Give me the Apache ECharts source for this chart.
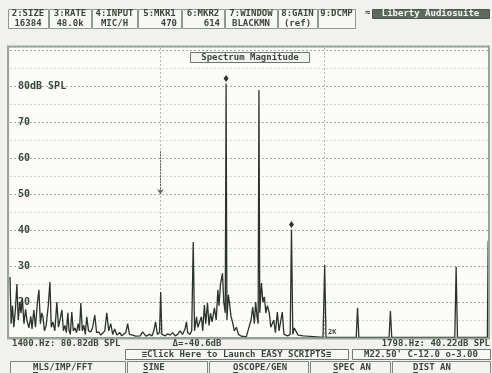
<!DOCTYPE html>
<html>
<head>
<meta charset="utf-8">
<script src="https://cdn.jsdelivr.net/npm/echarts@6/dist/echarts.min.js"></script>
<style>
  html, body { margin: 0; padding: 0; background: #f1f2ee; }
  #chart { width: 492px; height: 373px; }
</style>
</head>
<body>
<div id="chart"></div>
<script>
// Spectrum trace: frequency (Hz) and level (dB SPL), one entry per point
const freqHz = [
  85, 92, 100, 108, 118, 127, 135, 145, 152, 160, 170, 180, 188, 200, 212, 219, 230, 240, 252, 261,
  270, 278, 285, 295, 305, 318, 328, 336, 346, 358, 370, 380, 389, 401, 410, 419, 428, 437, 444, 452,
  461, 470, 480, 490, 500, 508, 516, 525, 534, 543, 552, 563, 577, 588, 601, 612, 625, 637, 650, 662,
  674, 686, 698, 710, 722, 735, 753, 765, 777, 790, 801, 812, 832, 850, 862, 878, 892, 912, 935, 950,
  960, 971, 982, 995, 1002, 1009, 1020, 1030, 1045, 1060, 1075, 1090, 1105, 1120, 1135, 1150, 1159, 1166, 1180, 1191,
  1200, 1208, 1220, 1228, 1238, 1250, 1258, 1268, 1276, 1287, 1296, 1305, 1315, 1329, 1340, 1350, 1357, 1366, 1378, 1386,
  1395, 1400, 1405, 1414, 1420, 1430, 1439, 1450, 1463, 1475, 1493, 1505, 1523, 1533, 1542, 1552, 1562, 1572, 1580, 1588,
  1595, 1600, 1605, 1615, 1624, 1633, 1642, 1651, 1663, 1672, 1681, 1690, 1700, 1712, 1722, 1730, 1742, 1752, 1762, 1775,
  1790, 1798, 1806, 1815, 1827, 1838, 1850, 1870, 1894, 1990, 2000, 2008, 2192, 2200, 2208, 2392, 2400, 2408, 2792, 2800,
  2808, 2990, 2995, 3000
];
const levelDb = [
  27, 14, 19, 13, 18, 25, 15, 20, 17, 21, 14, 18, 15, 12.8, 16, 12.5, 17.8, 13, 20, 23.4,
  14, 17, 16, 12, 13.5, 19, 25.6, 13, 14.5, 12, 20, 13, 15, 17.8, 12, 13.5, 11.5, 17, 12.2, 11,
  17.2, 12, 12.8, 11.5, 14, 12, 19.7, 12, 13.6, 11, 15.9, 12, 11.7, 13, 16.4, 11.5, 11.7, 10.8, 11.4, 12,
  17, 12, 14, 11, 12.5, 10.8, 11.5, 10.6, 11, 11.5, 14, 11, 10.8, 10.5, 11, 10.6, 11.7, 10.5, 11, 10.6,
  12, 14.5, 11, 11.5, 22.8, 11, 11.5, 10.6, 11.2, 10.8, 11.5, 10.6, 11, 12, 11, 12.5, 14.5, 11.5, 11, 12,
  36.7, 12, 15.9, 13, 13, 15.9, 12, 19.2, 14, 19.7, 13.5, 16.9, 14.5, 18.4, 15, 23.4, 19, 25, 28, 20,
  17, 80.82, 15, 22, 20, 16, 14.5, 12, 13, 11, 10.5, 11, 10.3, 12, 11.7, 15, 18.6, 14, 20, 16,
  14, 79, 17, 25.3, 20, 21.4, 17, 19, 17, 13, 13, 15, 11.5, 17.2, 12, 14, 17.2, 11, 11.5, 10.6,
  11, 40.22, 11, 12.8, 13, 10.8, 11, 10.6, 10.5, 10.2, 30.3, 10.2, 10.2, 18.4, 10.2, 10.2, 17.5, 10.2, 10.2, 29.8,
  10.2, 10.2, 37, 10.2
];

// Levels that carry a label on the left edge, and frequency grid lines
const yLabelLevels = [20, 30, 40, 50, 60, 70, 80];
const freqGridHz = [1000, 2000];

// Cursor markers: [frequency Hz, level dB]
const marker1 = [1400, 80.82];
const marker2 = [1798, 40.22];

// Header parameter boxes
const headerLabels = ['2:SIZE', '3:RATE', '4:INPUT', '5:MKR1', '6:MKR2', '7:WINDOW', '8:GAIN', '9:DCMP'];
const headerValues = ['16384', '48.0k', 'MIC/H', '470', '614', 'BLACKMN', '(ref)', ''];

// Bottom button row
const buttonLabels = ['MLS/IMP/FFT', 'SINE', 'OSCOPE/GEN', 'SPEC AN', 'DIST AN'];

const FONT = '"DejaVu Sans Mono", "Liberation Mono", monospace';
const INK = '#3b463b';
const EDGE = '#8f9a8f';

const chart = echarts.init(document.getElementById('chart'), null, { renderer: 'canvas' });

const trace = freqHz.map((f, i) => [f, levelDb[i]]);

function txt(x, y, text, opts) {
  opts = opts || {};
  const a = opts.align || 'left';
  return {
    type: 'text', x: x, y: y, silent: true, z: 20,
    style: {
      text: text,
      font: (opts.weight || 'bold') + ' ' + (opts.size || 10) + 'px ' + FONT,
      fill: opts.fill || INK,
      align: a,
      textAlign: a,
      verticalAlign: 'middle',
      textVerticalAlign: 'middle'
    }
  };
}
function box(x, y, w, h, opts) {
  opts = opts || {};
  return {
    type: 'rect', silent: true, z: 15,
    shape: { x: x + 0.5, y: y + 0.5, width: w, height: h },
    style: { fill: opts.fill || '#f7f8f4', stroke: opts.stroke || EDGE, lineWidth: opts.lw || 1 }
  };
}

const graphics = [];

// Header parameter boxes
const headerEdges = [8, 49, 92, 138, 182, 225, 278, 318, 356];
headerLabels.forEach((lab, i) => {
  const x0 = headerEdges[i], x1 = headerEdges[i + 1] - 1;
  graphics.push(box(x0, 9, x1 - x0, 19));
  graphics.push(txt((x0 + x1) / 2, 14, lab, { size: 9, align: 'center' }));
  const rightAligned = (i === 3 || i === 4);
  graphics.push(txt(rightAligned ? x1 - 4 : (x0 + x1) / 2, 24, headerValues[i],
    { size: 9, align: rightAligned ? 'right' : 'center' }));
});

// Product badge
graphics.push(txt(365, 13, '\u2248', { size: 9 }));
graphics.push(box(372, 9, 117, 9, { fill: '#5f6a5f', stroke: '#4d574d' }));
graphics.push(txt(430.5, 14, 'Liberty Audiosuite', { size: 9, align: 'center', fill: '#f4f6f2' }));

// Plot frame and title
graphics.push({
  type: 'rect', silent: true, z: 12,
  shape: { x: 8, y: 46.5, width: 481, height: 292 },
  style: { fill: 'none', stroke: '#9aa59a', lineWidth: 2 }
});
graphics.push(box(190, 52, 119, 10, { fill: '#f4f5f1', stroke: '#6f7a6f' }));
graphics.push(txt(250, 57.5, 'Spectrum Magnitude', { size: 9, align: 'center' }));

// Small tag near the 2 kHz line
graphics.push(txt(328, 332, '2K', { size: 7 }));

// Cursor readouts
const delta = (marker2[1] - marker1[1]).toFixed(1);
graphics.push(txt(12, 343.5, marker1[0] + '.Hz: ' + marker1[1].toFixed(2) + 'dB SPL', { size: 9 }));
graphics.push(txt(197, 343.5, '\u0394=' + delta + 'dB', { size: 9, align: 'center' }));
graphics.push(txt(490, 343.5, marker2[0] + '.Hz: ' + marker2[1].toFixed(2) + 'dB SPL', { size: 9, align: 'right' }));

// Script launcher and status box
graphics.push(box(125, 349, 223, 10, { fill: '#f7f8f4', stroke: '#6f7a6f' }));
graphics.push(txt(236.5, 354.5, '\u2261Click Here to Launch EASY SCRIPTS\u2261', { size: 9, align: 'center' }));
graphics.push(box(352, 349, 138, 10, { fill: '#f7f8f4', stroke: '#6f7a6f' }));
graphics.push(txt(421, 354.5, "M22.50' C-12.0 o-3.00", { size: 9, align: 'center' }));

// Button row
const btnEdges = [[10, 125, 33], [127, 207, 143], [209, 308, 233], [310, 390, 333], [392, 490, 413]];
buttonLabels.forEach((lab, i) => {
  const e = btnEdges[i];
  graphics.push(box(e[0], 361, e[1] - e[0], 14, { fill: '#f4f5f1', stroke: '#7d887d' }));
  graphics.push(txt(e[2], 367.5, lab, { size: 9 }));
  graphics.push({
    type: 'line', silent: true, z: 20,
    shape: { x1: e[2], y1: 372.5, x2: e[2] + 5, y2: 372.5 },
    style: { stroke: INK, lineWidth: 1 }
  });
});

chart.setOption({
  animation: false,
  backgroundColor: '#f1f2ee',
  grid: {
    left: 10, right: 3, top: 47, bottom: 35,
    show: true, backgroundColor: '#fbfbf9', borderWidth: 0
  },
  xAxis: {
    type: 'value', min: 85, max: 3000,
    axisLabel: { show: false }, axisTick: { show: false },
    splitLine: { show: false },
    axisLine: { show: true, lineStyle: { color: '#6c786c', width: 1.5 } }
  },
  yAxis: {
    type: 'value', min: 10, max: 91, interval: 5,
    axisLine: { show: false }, axisTick: { show: false },
    axisLabel: {
      inside: true, margin: 8,
      color: '#3a4a3a', fontFamily: FONT, fontWeight: 'bold', fontSize: 10,
      formatter: v => (v === 80 ? '80dB SPL' : (yLabelLevels.indexOf(v) >= 0 ? String(v) : ''))
    },
    splitLine: {
      show: true,
      lineStyle: { type: [2, 2], width: 1, color: ['#9fa99f', '#d0d5cf'] }
    },
    z: 3
  },
  series: [{
    type: 'line',
    data: trace,
    symbol: 'none',
    sampling: 'none',
    lineStyle: { color: '#2c322c', width: 1.3 },
    z: 5,
    markLine: {
      silent: true,
      symbol: 'none',
      label: { show: false },
      lineStyle: { type: [2, 2], color: '#b2bab1', width: 1 },
      data: freqGridHz.map(f => ({ xAxis: f })).concat([[
        { coord: [1000, 62], symbol: 'none', lineStyle: { type: [2, 1], color: '#5a645a', width: 1 } },
        { coord: [1000, 50], symbol: 'arrow', symbolSize: 5 }
      ]])
    },
    markPoint: {
      silent: true,
      symbol: 'diamond',
      symbolSize: [5, 7],
      symbolOffset: [0, -5],
      itemStyle: { color: '#2f362f' },
      label: { show: false },
      data: [{ coord: marker1 }, { coord: marker2 }]
    }
  }],
  graphic: graphics
});
</script>
</body>
</html>
